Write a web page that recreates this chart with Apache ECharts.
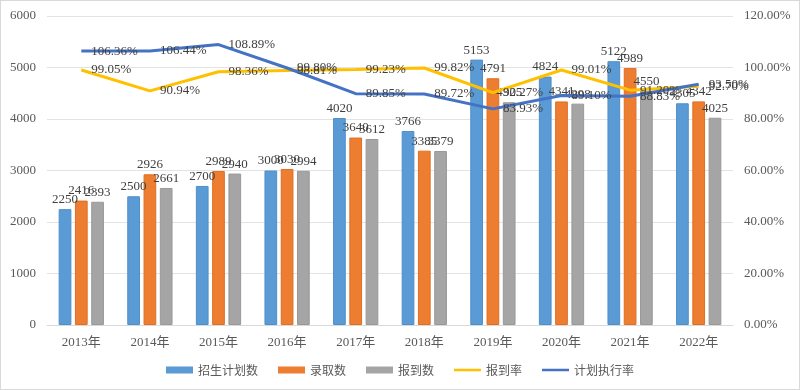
<!DOCTYPE html>
<html><head><meta charset="utf-8">
<script src="https://cdn.jsdelivr.net/npm/echarts@6/dist/echarts.min.js"></script>
<style>html,body{margin:0;padding:0;background:#fff;}#c{width:798px;height:388px;border:1px solid #d9d9d9;}</style>
</head><body><div id="c"></div>
<script>
var categories = ['2013年','2014年','2015年','2016年','2017年','2018年','2019年','2020年','2021年','2022年'];
var planned = [2250,2500,2700,3000,4020,3766,5153,4824,5122,4305];
var admitted = [2416,2926,2989,3030,3640,3385,4791,4341,4989,4342];
var reported = [2393,2661,2940,2994,3612,3379,4325,4298,4550,4025];
var reportRate = [99.05,90.94,98.36,98.81,99.23,99.82,90.27,99.01,91.20,92.70];
var execRate = [106.36,106.44,108.89,99.80,89.85,89.72,83.93,89.10,88.83,93.50];

var font = '"Noto Sans CJK SC", "Liberation Sans", sans-serif';
var numFont = '"Liberation Serif", "Noto Sans CJK SC", serif';
var labelCol = '#404040';
var lineIcon = 'path://M0,0L0.01,0L0,0.01Z M0,2.2H27V4.8H0Z M27,7L26.99,7L27,6.99Z';
function barSeries(name, data, color, border){
  return {name:name,type:'bar',data:data,barGap:'28%',barCategoryGap:'34%',
    itemStyle:{color:color,borderColor:border,borderWidth:1},
    label:{show:true,position:'top',distance:3,color:labelCol,fontSize:13,fontFamily:numFont}};
}
function lineSeries(name, data, color){
  return {name:name,type:'line',yAxisIndex:1,data:data,symbol:'circle',symbolSize:0,showSymbol:true,
    lineStyle:{color:color,width:3},itemStyle:{color:color},
    label:{show:true,position:'right',distance:10,color:labelCol,fontSize:13,fontFamily:numFont,
      formatter:function(p){return p.value.toFixed(2)+'%';}}};
}
var chart = echarts.init(document.getElementById('c'));
chart.setOption({
  animation:false,
  textStyle:{fontFamily:font},
  grid:{left:46,right:66,top:15,bottom:64},
  legend:{bottom:8,left:'center',itemWidth:27,itemHeight:7,itemGap:20,
    itemStyle:{borderWidth:0},
    textStyle:{color:'#595959',fontSize:12,fontFamily:font},
    data:[{name:'招生计划数',icon:'rect'},{name:'录取数',icon:'rect'},{name:'报到数',icon:'rect'},
      {name:'报到率',icon:lineIcon},{name:'计划执行率',icon:lineIcon}]},
  xAxis:{type:'category',data:categories,
    axisLine:{lineStyle:{color:'#d9d9d9'}},axisTick:{show:false},
    axisLabel:{color:'#595959',fontSize:13,margin:11,fontFamily:numFont}},
  yAxis:[
    {type:'value',min:0,max:6000,interval:1000,
     axisLine:{show:false},axisTick:{show:false},
     axisLabel:{color:'#595959',fontSize:13,margin:11,fontFamily:numFont,formatter:function(v){return String(v);}},
     splitLine:{lineStyle:{color:'#e3e3e3'}}},
    {type:'value',min:0,max:120,interval:20,
     axisLine:{show:false},axisTick:{show:false},
     axisLabel:{color:'#595959',fontSize:13,margin:11,fontFamily:numFont,formatter:function(v){return v.toFixed(2)+'%';}},
     splitLine:{show:false}}
  ],
  series:[
    barSeries('招生计划数',planned,'#5b9bd5','#4f8fc9'),
    barSeries('录取数',admitted,'#ed7d31','#e06f22'),
    barSeries('报到数',reported,'#a5a5a5','#999999'),
    lineSeries('报到率',reportRate,'#ffc000'),
    lineSeries('计划执行率',execRate,'#4472c4')
  ]
});
</script></body></html>
